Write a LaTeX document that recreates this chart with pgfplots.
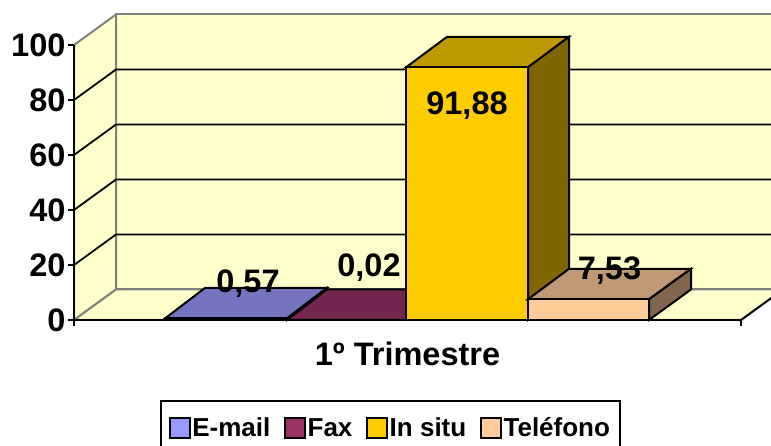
\documentclass[border=0pt]{standalone}
\usepackage{pgfplots}
\pgfplotsset{compat=1.18}
\usepackage{fontspec}
\setmainfont{Liberation Sans}
\definecolor{wall}{HTML}{FFFFCC}
\definecolor{edge}{HTML}{808080}
\newcommand{\bigf}{\fontsize{32.5}{35}\selectfont\bfseries}
\newcommand{\legf}{\fontsize{26}{28}\selectfont\bfseries}
\begin{document}
\begin{tikzpicture}
\path[use as bounding box] (0,0) rectangle (771pt,446pt);
\clip (0,0) rectangle (771pt,446pt);
\begin{axis}[
  at={(74pt,126pt)}, anchor=south west,
  scale only axis, width=667pt, height=275pt,
  xmin=74, xmax=741, ymin=0, ymax=100,
  clip=false, axis on top,
  axis x line*=bottom, axis y line*=left,
  axis line style={-, line width=2pt, black},
  tick style={line width=1.8pt, black},
  tick align=outside, major tick length=6pt,
  ytick={0,20,40,60,80,100},
  xtick={74,741}, xticklabels={,},
  /pgf/number format/assume math mode=true,
  tick label style={font=\bigf},
  yticklabel style={xshift=1pt},
  xlabel={1º Trimestre},
  xlabel style={font=\bigf, at={(axis description cs:0.5,0)}, anchor=base, yshift=-46pt},
  legend columns=4,
  legend cell align=left,
  legend style={at={(0.1282,-0.291)}, anchor=north west, draw=black, line width=2pt,
    fill=white, inner xsep=8.5pt, inner ysep=15pt, font=\legf,
    /tikz/every even column/.append style={column sep=12.5pt},
    nodes={inner sep=1.5pt, line width=0pt}},
  legend image code/.code={\draw[#1, line width=1.8pt] (0pt,-10pt) rectangle (20pt,10pt);},
]
% walls and floor
\addplot[forget plot, fill=wall, draw=edge, line width=2pt] coordinates {(116,11.09) (783,11.09) (783,111.09) (116,111.09)} -- cycle;
\addplot[forget plot, fill=wall, draw=edge, line width=2pt] coordinates {(74,0) (116,11.09) (116,111.09) (74,100)} -- cycle;
\addplot[forget plot, fill=wall, draw=edge, line width=2pt] coordinates {(74,0) (741,0) (783,11.09) (116,11.09)} -- cycle;
% gridlines
\addplot[forget plot, black, line width=1.8pt] coordinates {(74,20) (116,31.09) (783,31.09)};
\addplot[forget plot, black, line width=1.8pt] coordinates {(74,40) (116,51.09) (783,51.09)};
\addplot[forget plot, black, line width=1.8pt] coordinates {(74,60) (116,71.09) (783,71.09)};
\addplot[forget plot, black, line width=1.8pt] coordinates {(74,80) (116,91.09) (783,91.09)};
\addplot[forget plot, black, line width=1.8pt] coordinates {(741,0) (783,11.09)};
% E-mail 0.57
\addplot[forget plot, fill={rgb,255:red,115;green,115;blue,191}, draw=black, line width=2pt] coordinates {(165,0.57) (287,0.57) (327,11.66) (205,11.66)} -- cycle;
\addplot[forget plot, fill={rgb,255:red,77;green,77;blue,128}, draw=black, line width=2pt] coordinates {(287,0) (327,11.09) (327,11.66) (287,0.57)} -- cycle;
\addplot[fill={rgb,255:red,153;green,153;blue,255}, draw=black, line width=2pt] coordinates {(165,0) (287,0) (287,0.57) (165,0.57)} -- cycle;
\addlegendentry{E-mail}
% Fax 0.02
\addplot[forget plot, fill={rgb,255:red,115;green,38;blue,77}, draw=black, line width=2pt] coordinates {(287,0.02) (406,0.02) (447,11.11) (327,11.11)} -- cycle;
\addplot[fill={rgb,255:red,153;green,51;blue,102}, draw=black, line width=2pt] coordinates {(287,0) (406,0) (406,0.02) (287,0.02)} -- cycle;
\addlegendentry{Fax}
% In situ 91.88
\addplot[forget plot, fill={rgb,255:red,191;green,153;blue,0}, draw=black, line width=2pt] coordinates {(406,91.88) (528,91.88) (569,102.97) (447,102.97)} -- cycle;
\addplot[forget plot, fill={rgb,255:red,128;green,102;blue,0}, draw=black, line width=2pt] coordinates {(528,0) (569,11.09) (569,102.97) (528,91.88)} -- cycle;
\addplot[fill={rgb,255:red,255;green,204;blue,0}, draw=black, line width=2pt] coordinates {(406,0) (528,0) (528,91.88) (406,91.88)} -- cycle;
\addlegendentry{In situ}
% Telefono 7.53
\addplot[forget plot, fill={rgb,255:red,191;green,153;blue,115}, draw=black, line width=2pt] coordinates {(528,7.53) (649,7.53) (691,18.62) (569,18.62)} -- cycle;
\addplot[forget plot, fill={rgb,255:red,128;green,102;blue,77}, draw=black, line width=2pt] coordinates {(649,0) (691,11.09) (691,18.62) (649,7.53)} -- cycle;
\addplot[fill={rgb,255:red,255;green,204;blue,153}, draw=black, line width=2pt] coordinates {(528,0) (649,0) (649,7.53) (528,7.53)} -- cycle;
\addlegendentry{Teléfono\hspace{8pt}}
% value labels
\node[anchor=base, font=\bigf, inner sep=0pt] at (axis cs:248,10) {0,57};
\node[anchor=base, font=\bigf, inner sep=0pt] at (axis cs:369,15.64) {0,02};
\node[anchor=base, font=\bigf, inner sep=0pt] at (axis cs:467,74.55) {91,88};
\node[anchor=base, font=\bigf, inner sep=0pt] at (axis cs:609.5,14.55) {7,53};
\end{axis}
\end{tikzpicture}
\end{document}
